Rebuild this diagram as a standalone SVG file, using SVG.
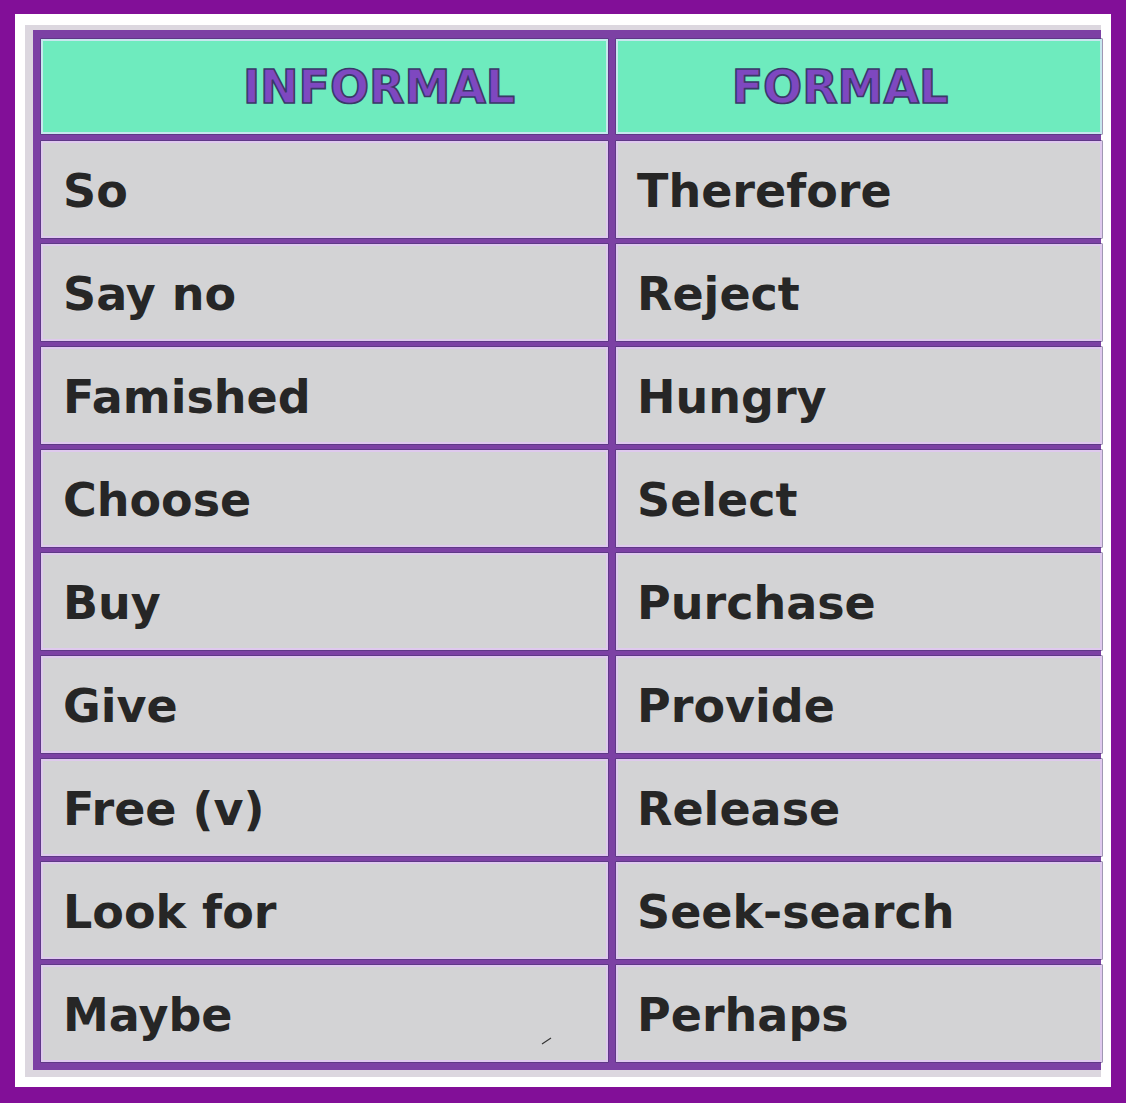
<svg xmlns="http://www.w3.org/2000/svg" width="1126" height="1103" viewBox="0 0 1126 1103">
<style>
.edge{fill:#43306a}
.cell{fill:#d3d3d5;stroke:#dfc9ee;stroke-width:2}
.hcell{fill:#6eebbe;stroke:#c6e8ee;stroke-width:2}
.t{font-family:"DejaVu Sans","Verdana",sans-serif;font-weight:bold;font-size:46px;fill:#262626}
.h{font-family:"DejaVu Sans","Verdana",sans-serif;font-weight:bold;font-size:46px;fill:#7e48c0;stroke:#3a3868;stroke-width:1.6;text-anchor:middle}
</style>
<rect x="0" y="0" width="1126" height="1103" fill="#820f98"/>
<rect x="15" y="14" width="1096" height="1073" fill="#ffffff"/>
<rect x="25" y="25" width="1076" height="1052" fill="#dcd7df"/>
<g id="grid">
<rect x="33" y="30" width="1068" height="1040" fill="#7c41a4"/>
</g>
<g id="header">
<rect class="edge" x="40.5" y="38.5" width="568" height="96"/>
<rect class="edge" x="615.5" y="38.5" width="487" height="96"/>
<rect class="hcell" x="42" y="40" width="565" height="93"/>
<rect class="hcell" x="617" y="40" width="484" height="93"/>
<text class="h" x="379" y="103">INFORMAL</text>
<text class="h" x="840" y="103">FORMAL</text>
</g>
<g id="row1">
<rect class="edge" x="40.5" y="140.5" width="568" height="98"/><rect class="edge" x="615.5" y="140.5" width="487" height="98"/>
<rect class="cell" x="42" y="142" width="565" height="95"/><rect class="cell" x="617" y="142" width="484" height="95"/>
<text class="t" x="63" y="207">So</text><text class="t" x="637" y="207">Therefore</text>
</g>
<g id="row2">
<rect class="edge" x="40.5" y="243.5" width="568" height="98"/><rect class="edge" x="615.5" y="243.5" width="487" height="98"/>
<rect class="cell" x="42" y="245" width="565" height="95"/><rect class="cell" x="617" y="245" width="484" height="95"/>
<text class="t" x="63" y="310">Say no</text><text class="t" x="637" y="310">Reject</text>
</g>
<g id="row3">
<rect class="edge" x="40.5" y="346.5" width="568" height="98"/><rect class="edge" x="615.5" y="346.5" width="487" height="98"/>
<rect class="cell" x="42" y="348" width="565" height="95"/><rect class="cell" x="617" y="348" width="484" height="95"/>
<text class="t" x="63" y="413">Famished</text><text class="t" x="637" y="413">Hungry</text>
</g>
<g id="row4">
<rect class="edge" x="40.5" y="449.5" width="568" height="98"/><rect class="edge" x="615.5" y="449.5" width="487" height="98"/>
<rect class="cell" x="42" y="451" width="565" height="95"/><rect class="cell" x="617" y="451" width="484" height="95"/>
<text class="t" x="63" y="516">Choose</text><text class="t" x="637" y="516">Select</text>
</g>
<g id="row5">
<rect class="edge" x="40.5" y="552.5" width="568" height="98"/><rect class="edge" x="615.5" y="552.5" width="487" height="98"/>
<rect class="cell" x="42" y="554" width="565" height="95"/><rect class="cell" x="617" y="554" width="484" height="95"/>
<text class="t" x="63" y="619">Buy</text><text class="t" x="637" y="619">Purchase</text>
</g>
<g id="row6">
<rect class="edge" x="40.5" y="655.5" width="568" height="98"/><rect class="edge" x="615.5" y="655.5" width="487" height="98"/>
<rect class="cell" x="42" y="657" width="565" height="95"/><rect class="cell" x="617" y="657" width="484" height="95"/>
<text class="t" x="63" y="722">Give</text><text class="t" x="637" y="722">Provide</text>
</g>
<g id="row7">
<rect class="edge" x="40.5" y="758.5" width="568" height="98"/><rect class="edge" x="615.5" y="758.5" width="487" height="98"/>
<rect class="cell" x="42" y="760" width="565" height="95"/><rect class="cell" x="617" y="760" width="484" height="95"/>
<text class="t" x="63" y="825">Free (v)</text><text class="t" x="637" y="825">Release</text>
</g>
<g id="row8">
<rect class="edge" x="40.5" y="861.5" width="568" height="98"/><rect class="edge" x="615.5" y="861.5" width="487" height="98"/>
<rect class="cell" x="42" y="863" width="565" height="95"/><rect class="cell" x="617" y="863" width="484" height="95"/>
<text class="t" x="63" y="928">Look for</text><text class="t" x="637" y="928">Seek-search</text>
</g>
<g id="row9">
<rect class="edge" x="40.5" y="964.5" width="568" height="98"/><rect class="edge" x="615.5" y="964.5" width="487" height="98"/>
<rect class="cell" x="42" y="966" width="565" height="95"/><rect class="cell" x="617" y="966" width="484" height="95"/>
<text class="t" x="63" y="1031">Maybe</text><text class="t" x="637" y="1031">Perhaps</text>
<path d="M542 1044 L551 1038" stroke="#333" stroke-width="1.2" fill="none"/>
</g>
<g id="connectors"></g>
</svg>
